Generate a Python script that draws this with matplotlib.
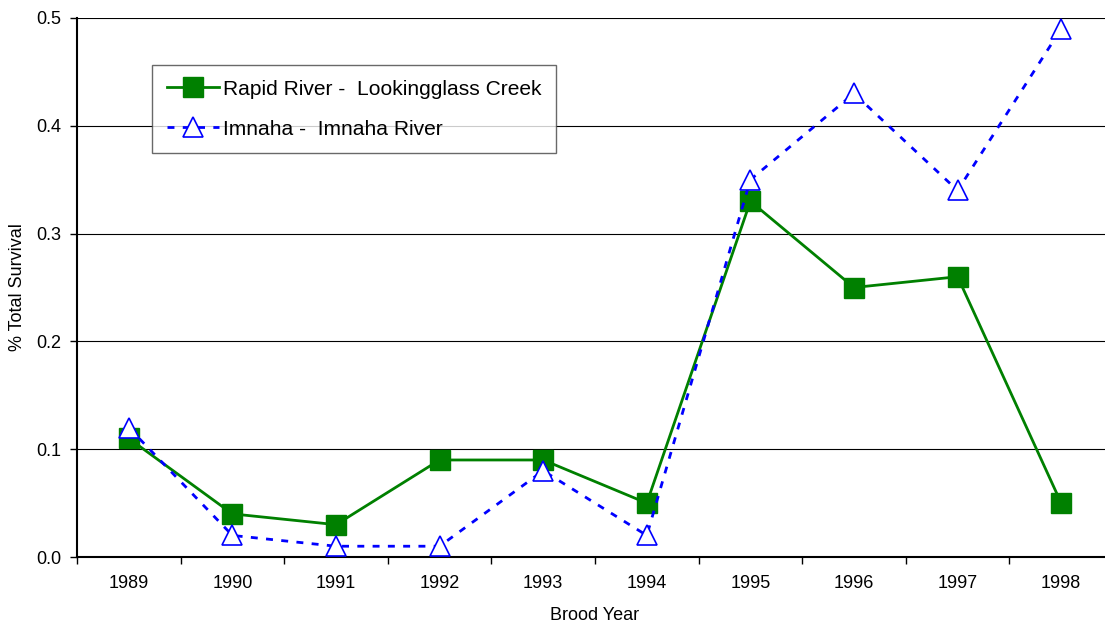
import numpy as np
import matplotlib.pyplot as plt

plt.rcParams['font.family'] = ['Liberation Sans', 'DejaVu Sans']

years = ['1989', '1990', '1991', '1992', '1993', '1994', '1995', '1996', '1997', '1998']
rapid = [0.11, 0.04, 0.03, 0.09, 0.09, 0.05, 0.33, 0.25, 0.26, 0.05]
imnaha = [0.12, 0.02, 0.01, 0.01, 0.08, 0.02, 0.35, 0.43, 0.34, 0.49]

x = np.arange(len(years))

fig = plt.figure(figsize=(11.05, 6.24), dpi=100)
ax = fig.add_axes([77/1105, 1-557/624, (1113-77)/1105, (557-18)/624])

ax.plot(x, rapid, color='#008000', lw=2, marker='s', ms=14,
        mfc='#008000', mec='#008000', label='Rapid River -  Lookingglass Creek', zorder=3)
ax.plot(x, imnaha, color='#0000FF', lw=2, ls=(0, (2.5, 3)), marker='^', ms=15,
        mfc='white', mec='#0000FF', mew=1.2, label='Imnaha -  Imnaha River', zorder=4)

ax.set_xlim(-0.5, len(years) - 0.5)
ax.set_ylim(0, 0.5)
ax.set_yticks(np.arange(0, 0.51, 0.1))
ax.set_yticklabels(['0.0', '0.1', '0.2', '0.3', '0.4', '0.5'])
ax.set_xticks(x)
ax.set_xticklabels(years)
ax.set_xticks(np.arange(-0.5, len(years)), minor=True)
ax.tick_params(axis='x', which='major', length=0, pad=13, labelsize=13)
ax.tick_params(axis='x', which='minor', length=5, width=1, direction='out')
ax.tick_params(axis='y', length=5, width=1, direction='out', labelsize=13, pad=6)
ax.yaxis.grid(True, color='black', lw=0.8)
ax.set_axisbelow(True)
for s in ['top', 'right']:
    ax.spines[s].set_visible(False)
ax.spines['left'].set_linewidth(1.5)
ax.spines['bottom'].set_linewidth(1.5)

ax.set_xlabel('Brood Year', fontsize=13, va='center')
ax.xaxis.set_label_coords((595 - 77) / 1036, -(615 - 557) / 539)
ax.set_ylabel('% Total Survival', fontsize=13, va='center')
ax.yaxis.set_label_coords(-(77 - 18) / 1036, 0.5)

leg = ax.legend(loc='upper left', bbox_to_anchor=(0.0724, 0.913), borderaxespad=0,
                fontsize=15.1, frameon=True, fancybox=False, edgecolor='#444444',
                handlelength=2.5, handletextpad=0.2, labelspacing=1.0,
                borderpad=0.7)
leg.get_frame().set_linewidth(1)

fig.savefig('out.png', dpi=100)
